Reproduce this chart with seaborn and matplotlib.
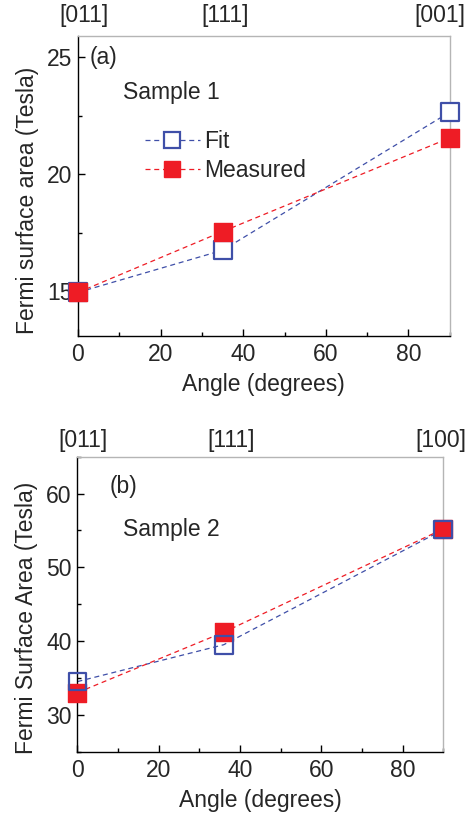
import matplotlib
matplotlib.use("Agg")
import matplotlib.pyplot as plt
import seaborn as sns
import pandas as pd
from matplotlib.lines import Line2D
from matplotlib.ticker import MultipleLocator

sns.set_theme(style="ticks")
plt.rcParams['font.family'] = ['Liberation Sans', 'DejaVu Sans']

# Panel (a) data
angle_a = [0, 35, 90]
fit_a = [14.95, 16.75, 22.65]
meas_a = [14.95, 17.55, 21.55]
dirs_a = ["[011]", "[111]", "[001]"]

# Panel (b) data
angle_b = [0, 36, 90]
fit_b = [34.5, 39.5, 55.1]
meas_b = [33.0, 41.2, 55.2]
dirs_b = ["[011]", "[111]", "[100]"]

BLUE = "#3f4fa8"
RED = "#ee1c25"
FS = 16.5

fig = plt.figure(figsize=(4.72, 8.17), dpi=100)
ax1 = fig.add_axes([0.165, 0.589, 0.788, 0.367])
ax2 = fig.add_axes([0.164, 0.080, 0.775, 0.361])


def panel(ax, angle, fit, meas, dirs, dir_dx, dir_dy, ylim, ymaj, ymin,
          ylabel, ylab_xy, fit_on_top):
    df = pd.DataFrame({"angle": angle, "fit": fit, "meas": meas})
    sns.lineplot(data=df, x="angle", y="fit", ax=ax, color=BLUE, lw=0.9,
                 linestyle=(0, (4, 3)), zorder=2)
    sns.lineplot(data=df, x="angle", y="meas", ax=ax, color=RED, lw=0.9,
                 linestyle=(0, (4, 3)), zorder=2)
    fz, mz = (5, 4) if fit_on_top else (3, 4)
    fface = "none" if fit_on_top else "white"
    ax.scatter(df["angle"], df["fit"], marker="s", s=160, facecolors=fface,
               edgecolors=BLUE, linewidths=1.6, zorder=fz, clip_on=False)
    ax.scatter(df["angle"], df["meas"], marker="s", s=160, facecolors=RED,
               edgecolors=RED, linewidths=1.0, zorder=mz, clip_on=False)
    ax.set_xlim(0, 90)
    ax.set_ylim(*ylim)
    ax.xaxis.set_major_locator(MultipleLocator(20))
    ax.xaxis.set_minor_locator(MultipleLocator(10))
    ax.yaxis.set_major_locator(MultipleLocator(ymaj))
    ax.yaxis.set_minor_locator(MultipleLocator(ymin))
    ax.tick_params(which="both", direction="in", labelsize=FS, color="black",
                   top=False, right=False)
    ax.tick_params(which="major", length=5, width=1)
    ax.tick_params(which="minor", length=3, width=1)
    ax.tick_params(axis="x", pad=5)
    ax.tick_params(axis="y", pad=4)
    for s in ("left", "bottom"):
        ax.spines[s].set_color("black")
        ax.spines[s].set_linewidth(1.0)
    for s in ("top", "right"):
        ax.spines[s].set_color("#b5b5b5")
        ax.spines[s].set_linewidth(1.0)
    ax.set_xlabel("Angle (degrees)", fontsize=FS, labelpad=5)
    ax.set_ylabel(ylabel, fontsize=FS)
    ax.yaxis.set_label_coords(*ylab_xy)
    for a, d, dx in zip(angle, dirs, dir_dx):
        ax.annotate(d, xy=(a, 1.0), xycoords=ax.get_xaxis_transform(),
                    xytext=(dx, dir_dy), textcoords="offset pixels",
                    ha="center", va="center", fontsize=FS)


panel(ax1, angle_a, fit_a, meas_a, dirs_a, [6, 3, -10], 20, (13.1, 25.9), 5,
      2.5, "Fermi surface area (Tesla)", (-0.105, 0.453), False)
panel(ax2, angle_b, fit_b, meas_b, dirs_b, [6, 7, -2], 16, (25.0, 65.0), 10,
      5, "Fermi Surface Area (Tesla)", (-0.108, 0.4525), True)

ax1.text(0.032, 0.927, "(a)", transform=ax1.transAxes, fontsize=FS, va="center")
ax1.text(0.121, 0.81, "Sample 1", transform=ax1.transAxes, fontsize=FS, va="center")
ax2.text(0.089, 0.90, "(b)", transform=ax2.transAxes, fontsize=FS, va="center")
ax2.text(0.125, 0.752, "Sample 2", transform=ax2.transAxes, fontsize=FS, va="center")

handles = [
    Line2D([], [], color=BLUE, lw=0.9, linestyle=(0, (4, 3)), marker="s",
           markersize=12, markerfacecolor="white", markeredgecolor=BLUE,
           markeredgewidth=1.6),
    Line2D([], [], color=RED, lw=0.9, linestyle=(0, (4, 3)), marker="s",
           markersize=12, markerfacecolor=RED, markeredgecolor=RED),
]
ax1.legend(handles, ["Fit", "Measured"], loc="upper left",
           bbox_to_anchor=(0.18, 0.687), frameon=False, fontsize=FS,
           handlelength=2.4, handletextpad=0.2, labelspacing=0.25,
           borderaxespad=0, borderpad=0)

fig.savefig("out.png", dpi=100)
